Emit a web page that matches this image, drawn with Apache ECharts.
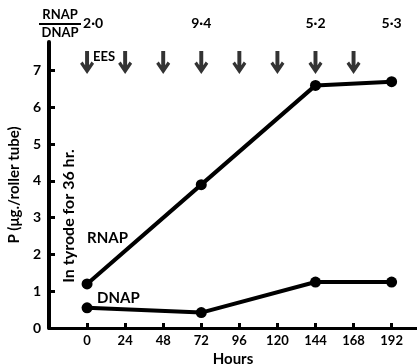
<!DOCTYPE html>
<html><head><meta charset="utf-8">
<script src="https://cdn.jsdelivr.net/npm/echarts@6/dist/echarts.min.js"></script>
<style>html,body{margin:0;padding:0;background:#fff}#c{width:417px;height:364px}</style>
</head><body><div id="c"></div>
<script>
const hours = [0, 72, 144, 192];
const rnap = [1.2, 3.9, 6.6, 6.7];
const dnap = [0.55, 0.42, 1.25, 1.25];
const ratioLabels = ['2·0', '9·4', '5·2', '5·3'];
const eesHours = [0, 24, 48, 72, 96, 120, 144, 168];
const xTicks = [0, 24, 48, 72, 96, 120, 144, 168, 192];
const yTicks = [0, 1, 2, 3, 4, 5, 6, 7];
const arrowLevel = 7.22;

const FONT = 'Lato';
const chart = echarts.init(document.getElementById('c'));
const arrowPath = 'path://M4.5,0 L8.5,0 L8.5,13.5 L11,10 L13.6,12 L6.5,22 L-0.6,12 L2,10 L4.5,13.5 Z';

chart.setOption({
  animation: false,
  grid: {left: 49, right: 0, top: 42, bottom: 36, containLabel: false, outerBoundsMode: 'none'},
  xAxis: {
    type: 'value', min: -24, max: 208,
    name: 'Hours', nameLocation: 'middle', nameGap: 20,
    nameTextStyle: {fontFamily: FONT, fontWeight: 'bold', fontSize: 15, color: '#000', lineHeight: 15},
    axisLine: {onZero: false, lineStyle: {color: '#000', width: 3}},
    axisTick: {inside: true, length: 5, lineStyle: {color: '#000', width: 3}, customValues: xTicks},
    axisLabel: {fontFamily: FONT, fontWeight: 'bold', fontSize: 13, color: '#000', margin: 6, customValues: xTicks},
    splitLine: {show: false}
  },
  yAxis: {
    type: 'value', min: 0, max: 7.78,
    name: 'P (μg./roller tube)', nameLocation: 'middle', nameGap: 27, nameRotate: 90,
    nameTextStyle: {fontFamily: FONT, fontWeight: 'bold', fontSize: 15, color: '#000'},
    axisLine: {onZero: false, lineStyle: {color: '#000', width: 4}},
    axisTick: {inside: true, length: 6, lineStyle: {color: '#000', width: 3}, customValues: yTicks},
    axisLabel: {fontFamily: FONT, fontWeight: 'bold', fontSize: 14, color: '#000', margin: 8, customValues: yTicks},
    splitLine: {show: false}
  },
  series: [
    {type: 'line', data: hours.map((h, i) => [h, rnap[i]]), symbol: 'circle', symbolSize: 11,
     lineStyle: {color: '#000', width: 4}, itemStyle: {color: '#000'}},
    {type: 'line', data: hours.map((h, i) => [h, dnap[i]]), symbol: 'circle', symbolSize: 11,
     lineStyle: {color: '#000', width: 4}, itemStyle: {color: '#000'}},
    {type: 'scatter', data: eesHours.map(h => [h, arrowLevel]), symbol: arrowPath, symbolSize: [14, 23],
     itemStyle: {color: '#000'}}
  ]
});

function px(x, y) { return chart.convertToPixel({gridIndex: 0}, [x, y]); }
const txt = {fontFamily: FONT, fontWeight: 'bold', fill: '#000'};
const g = [];
ratioLabels.forEach((t, i) => {
  const p = px(hours[i], 0);
  g.push({type: 'text', x: p[0] + (i === 0 ? 6 : 0), y: 23, style: Object.assign({text: t, fontSize: 14, align: 'center', verticalAlign: 'middle'}, txt)});
});
g.push({type: 'text', x: 60, y: 15, style: Object.assign({text: 'RNAP', fontSize: 13, align: 'center', verticalAlign: 'middle'}, txt)});
g.push({type: 'line', shape: {x1: 39, y1: 24, x2: 81, y2: 24}, style: {stroke: '#000', lineWidth: 2}});
g.push({type: 'text', x: 60, y: 33, style: Object.assign({text: 'DNAP', fontSize: 13, align: 'center', verticalAlign: 'middle'}, txt)});
const a0 = px(eesHours[0], arrowLevel);
g.push({type: 'text', x: a0[0] + 6, y: a0[1] - 6, style: Object.assign({text: 'EES', fontSize: 13, align: 'left', verticalAlign: 'middle'}, txt)});
const r0 = px(hours[0], rnap[0]);
g.push({type: 'text', x: r0[0], y: r0[1] - 46, style: Object.assign({text: 'RNAP', fontSize: 15, align: 'left', verticalAlign: 'middle'}, txt)});
const d0 = px(hours[0], dnap[0]);
g.push({type: 'text', x: d0[0] + 10, y: d0[1] - 10, style: Object.assign({text: 'DNAP', fontSize: 15, align: 'left', verticalAlign: 'middle'}, txt)});
g.push({type: 'text', x: 69, y: 216, rotation: Math.PI / 2, style: Object.assign({text: 'In tyrode for 36 hr.', fontSize: 16, align: 'center', verticalAlign: 'middle'}, txt)});
chart.setOption({graphic: g});
</script>
</body></html>
